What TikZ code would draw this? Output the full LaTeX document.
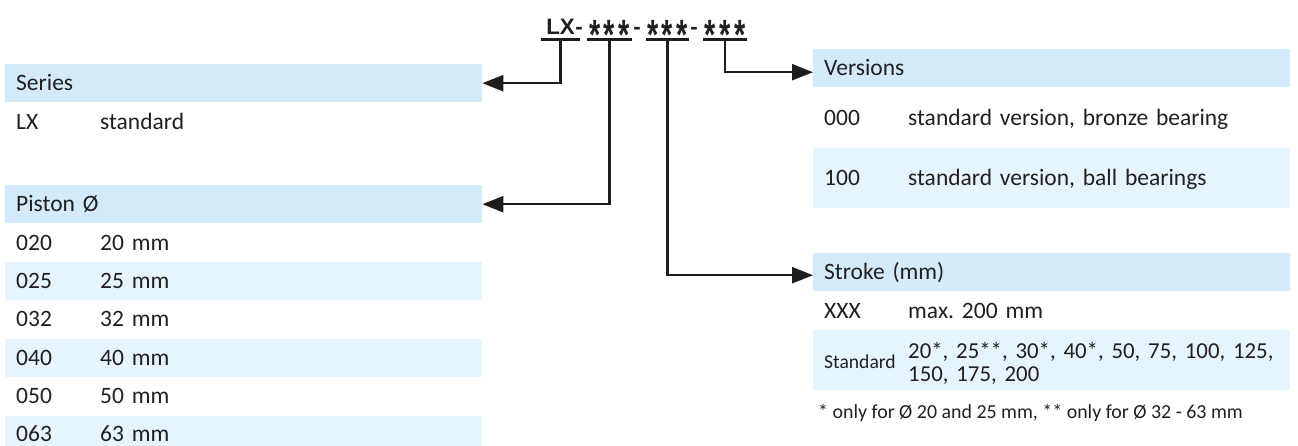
\documentclass[tikz,border=0pt]{standalone}
\usepackage{fontspec}
\usepackage{graphicx}
\usepackage{xcolor}
\setmainfont{Carlito}
\newfontfamily\titlefont{Liberation Sans}
\usetikzlibrary{positioning,arrows.meta}

\definecolor{headblue}{HTML}{D3EAFA}
\definecolor{rowblue}{HTML}{E6F4FD}
\definecolor{inkgray}{HTML}{231F20}
\definecolor{linegray}{HTML}{1D1D1B}

\newcommand{\codecol}[1]{\makebox[84pt][l]{#1}}
\newcommand{\bigast}{\raisebox{-15pt}{\scalebox{1.3}[1.9]{*}}}
\newcommand{\astgroup}{\bigast\hspace{3.5pt}\bigast\hspace{3.5pt}\bigast}

\tikzset{
	tabrow/.style={minimum width=477pt, minimum height=38pt, inner xsep=11pt, inner ysep=0pt, text width=455pt, align=left, text=inkgray},
	oneline/.style={tabrow, text height=15pt, text depth=0pt},
	headrow/.style={oneline, fill=headblue},
	whiterow/.style={oneline},
	bluerow/.style={oneline, fill=rowblue},
	codepart/.style={font={\titlefont\bfseries\fontsize{22.3}{26}\selectfont}, text=inkgray, text depth=0pt, inner xsep=0pt, inner ysep=5pt, anchor=base},
	uline/.style={draw=linegray, line width=3pt},
	link/.style={draw=linegray, line width=2.4pt, -{Triangle[length=21pt,width=16pt]}}
}

\begin{document}
\begin{tikzpicture}[x=1pt, y=-1pt, font=\fontsize{23.5}{28}\selectfont]
			\useasboundingbox (0,0) rectangle (1298,445);

			% type code
			\node[codepart, minimum width=38pt] (lx) at (560.5,34) {LX};
			\node[codepart] (dashA) at (579,34) {-};
			\node[codepart, minimum width=45pt] (grpA) at (609.5,34) {\astgroup};
			\node[codepart] (dashB) at (637,34) {-};
			\node[codepart, minimum width=43pt] (grpB) at (667.5,34) {\astgroup};
			\node[codepart] (dashC) at (694,34) {-};
			\node[codepart, minimum width=44pt] (grpC) at (725,34) {\astgroup};
			\draw[uline] (lx.south west) -- (lx.south east);
			\draw[uline] (grpA.south west) -- (grpA.south east);
			\draw[uline] (grpB.south west) -- (grpB.south east);
			\draw[uline] (grpC.south west) -- (grpC.south east);

			% series
			\node[headrow, anchor=north west] (series) at (5,64) {Series};
			\node[whiterow, below=0pt of series] (slx) {\codecol{LX}standard};

			% piston
			\node[headrow, anchor=north west] (piston) at (5,185) {Piston Ø};
			\node[whiterow, below=0pt of piston] (p020) {\codecol{020}20 mm};
			\node[bluerow, below=0pt of p020] (p025) {\codecol{025}25 mm};
			\node[whiterow, below=0pt of p025] (p032) {\codecol{032}32 mm};
			\node[bluerow, below=0pt of p032] (p040) {\codecol{040}40 mm};
			\node[whiterow, below=0pt of p040] (p050) {\codecol{050}50 mm};
			\node[bluerow, below=0pt of p050, minimum height=32pt, text height=19pt] (p063) {\codecol{063}63 mm};

			% versions
			\node[headrow, anchor=north west] (versions) at (813,49) {Versions};
			\node[whiterow, minimum height=60pt, below=0pt of versions] (v000) {\codecol{000}standard version, bronze bearing};
			\node[bluerow, minimum height=60pt, below=0pt of v000] (v100) {\codecol{100}standard version, ball bearings};

			% stroke
			\node[headrow, anchor=north west] (stroke) at (813,253) {Stroke (mm)};
			\node[whiterow, below=0pt of stroke] (sxxx) {\codecol{XXX}max.\ 200 mm};
			\node[tabrow, fill=rowblue, minimum height=60pt, text height=16pt, text depth=0pt, below=0pt of sxxx] (sstd)
			{\parbox[c]{84pt}{\fontsize{19.6}{23}\selectfont Standard}%
				\raisebox{-3pt}{\fontsize{22.8}{23}\selectfont\begin{tabular}[c]{@{}l@{}}20*, 25**, 30*, 40*, 50, 75, 100, 125,\\150, 175, 200\end{tabular}}};
			\node[anchor=west, inner sep=0pt, text=inkgray, font=\fontsize{19.9}{24}\selectfont] (fnote) at (818,413)
			{* only for Ø 20 and 25 mm, ** only for Ø 32 - 63 mm};

			% connectors
			\draw[link] (lx.south) |- (series.east);
			\draw[link] (grpA.south) |- (piston.east);
			\draw[link] (grpB.south) |- ([yshift=-3pt]stroke.west);
			\draw[link] (grpC.south) |- ([yshift=-4pt]versions.west);
		\end{tikzpicture}
\end{document}
